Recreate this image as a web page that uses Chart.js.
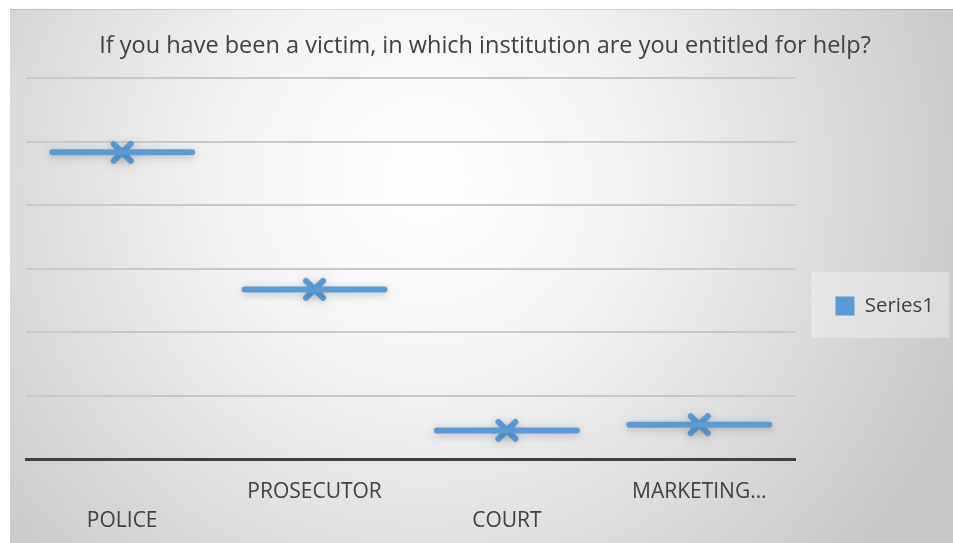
<!DOCTYPE html>
<html>
<head>
<meta charset="utf-8">
<script src="https://cdn.jsdelivr.net/npm/chart.js@4"></script>
<style>
  html, body { margin: 0; padding: 0; background: #ffffff; }
  #wrap { position: absolute; left: 10px; top: 9px; width: 943px; height: 534px; }
</style>
</head>
<body>
<div id="wrap"><canvas id="c" width="943" height="534"></canvas></div>
<script>
const titleText = 'If you have been a victim, in which institution are you entitled for help?';
const categories = [['', 'POLICE'], 'PROSECUTOR', ['', 'COURT'], 'MARKETING…'];
const seriesName = 'Series1';
const series1 = [48.3, 26.7, 4.5, 5.4];
const yMin = 0, yMax = 60, yStep = 10;

const BLUE = '#5B9BD5';
const FONT = "'Open Sans', sans-serif";

const bgPlugin = {
  id: 'bg',
  beforeDraw(chart) {
    const ctx = chart.ctx, w = chart.width, h = chart.height;
    ctx.save();
    const g = ctx.createRadialGradient(w * 0.44, h * 0.32, 0, w * 0.44, h * 0.32, w * 0.62);
    g.addColorStop(0, '#ffffff');
    g.addColorStop(0.35, '#f3f3f3');
    g.addColorStop(1, '#c6c6c6');
    ctx.fillStyle = g;
    ctx.fillRect(0, 0, w, h);
    ctx.fillStyle = 'rgba(0,0,0,0.12)';
    ctx.fillRect(0, 0, w, 1);
    const lg = chart.legend;
    if (lg && lg.legendHitBoxes && lg.legendHitBoxes.length) {
      const hb = lg.legendHitBoxes[0];
      const cy = hb.top + hb.height / 2;
      ctx.fillStyle = 'rgba(255,255,255,0.32)';
      ctx.fillRect(hb.left - 24, cy - 34, 138, 66);
    }
    ctx.restore();
  }
};

const glowPlugin = {
  id: 'glow',
  beforeDatasetsDraw(chart) {
    const ctx = chart.ctx;
    ctx.save();
    ctx.lineCap = 'round';
    ctx.lineJoin = 'round';
    ctx.shadowColor = 'rgba(0,0,0,0.22)';
    ctx.shadowBlur = 9;
    ctx.shadowOffsetY = 2;
  },
  afterDatasetsDraw(chart) {
    chart.ctx.restore();
  }
};

new Chart(document.getElementById('c'), {
  type: 'line',
  data: {
    labels: categories,
    datasets: [
      {
        label: seriesName,
        data: series1,
        showLine: false,
        backgroundColor: BLUE,
        borderColor: BLUE,
        borderWidth: 0,
        pointStyle: 'line',
        pointRadius: 70,
        pointHoverRadius: 70,
        pointBorderWidth: 6,
        pointBorderColor: BLUE,
        pointBackgroundColor: BLUE,
        clip: false
      },
      {
        label: 'markers',
        data: series1,
        showLine: false,
        borderWidth: 0,
        pointStyle: 'crossRot',
        pointRadius: 12,
        pointHoverRadius: 12,
        pointBorderWidth: 6,
        pointBorderColor: BLUE,
        pointBackgroundColor: BLUE,
        clip: false
      }
    ]
  },
  options: {
    responsive: false,
    animation: false,
    layout: { autoPadding: false, padding: { left: 16, right: 9, top: 0, bottom: 0 } },
    plugins: {
      title: {
        display: true,
        text: titleText,
        color: '#404040',
        font: { family: FONT, size: 23.5, weight: 'normal', lineHeight: 1.2 },
        padding: { top: 23, bottom: 17.8 }
      },
      legend: {
        display: true,
        position: 'right',
        align: 'center',
        title: { display: true, text: '', font: { size: 10, lineHeight: 1.2 }, padding: { top: 48, bottom: 0 } },
        labels: {
          color: '#404040',
          font: { family: FONT, size: 20.5 },
          boxWidth: 19,
          boxHeight: 19,
          padding: 40,
          filter: (item) => item.datasetIndex === 0
        }
      },
      tooltip: { enabled: false }
    },
    scales: {
      x: {
        offset: true,
        grid: { display: false, drawTicks: false, offset: true },
        border: { display: true, color: '#404040', width: 3 },
        ticks: {
          color: '#404040',
          font: { family: FONT, size: 21, lineHeight: 1.38 },
          padding: 18.5,
          maxRotation: 0,
          autoSkip: false
        },
        afterFit(scale) { scale.height = 84; }
      },
      y: {
        min: yMin,
        max: yMax,
        ticks: { display: false, stepSize: yStep },
        grid: { color: '#c8c8c8', lineWidth: 2, drawTicks: false },
        border: { display: false },
        afterFit(scale) { scale.width = 0; }
      }
    }
  },
  plugins: [bgPlugin, glowPlugin]
});
</script>
</body>
</html>
